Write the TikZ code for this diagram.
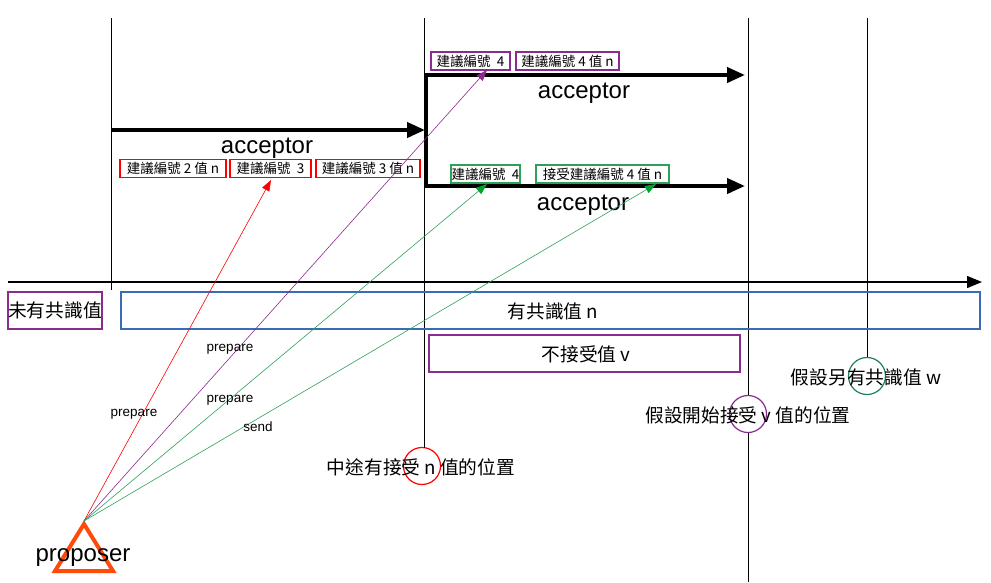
\documentclass[tikz,border=0pt]{standalone}
\usepackage{fontspec}
\setmainfont{Liberation Sans}
\newfontfamily\cjk{Noto Sans CJK TC}
\usetikzlibrary{arrows.meta}
\definecolor{cred}{HTML}{FF0000}
\definecolor{cpur}{HTML}{8B2A8F}
\definecolor{cgrn}{HTML}{2EA05A}
\definecolor{cgrnA}{HTML}{00A030}
\definecolor{cblue}{HTML}{3A6BB5}
\definecolor{cteal}{HTML}{1E7F5C}
\definecolor{corange}{HTML}{FF4A0A}
\tikzset{
  vline/.style={draw=black, line width=0.9pt},
  thickarr/.style={draw=black, line width=4pt, -{Triangle[length=18pt,width=15pt]}},
  smallbox/.style={draw, line width=1.3pt, inner sep=0pt, minimum height=18pt, font=\cjk\fontsize{13.5}{15}\selectfont},
  bigbox/.style={draw, line width=1.2pt, inner sep=0pt, minimum height=37pt},
  cjklbl/.style={font=\cjk\fontsize{18.7}{20}\selectfont, inner sep=0pt},
  acc/.style={font=\fontsize{24}{26}\selectfont, inner sep=0pt},
  small/.style={font=\fontsize{13.5}{15}\selectfont, inner sep=0pt},
  msg/.style={line width=0.6pt},
  ring/.style={draw, line width=1.2pt, circle, minimum size=37pt, inner sep=0pt},
}
\begin{document}
\begin{tikzpicture}[x=1pt,y=-1pt]
\useasboundingbox (0,0) rectangle (991,582);
% vertical lines
\coordinate (v1t) at (111,18); \coordinate (v1b) at (111,290);
\coordinate (v2t) at (424,18); \coordinate (v2b) at (424,448);
\coordinate (v3t) at (748,18); \coordinate (v3b) at (748,582);
\coordinate (v4t) at (867,18);
% circles
\node[ring, draw=cred] (c1) at (422,466) {};
\node[ring, draw=cpur] (c2) at (748,414) {};
\node[ring, draw=cteal] (c3) at (867,376) {};
\draw[vline] (v1t) -- (v1b);
\draw[vline] (v2t) -- (v2b);
\draw[vline] (v3t) -- (c2.north);
\draw[vline] (c2.south) -- (v3b);
\draw[vline] (v4t) -- (c3.north);
% axis
\coordinate (ax0) at (8,282); \coordinate (ax1) at (982,282);
\draw[line width=1.3pt, -{Triangle[length=15pt,width=12pt]}] (ax0) -- (ax1);
% big boxes
\node[bigbox, draw=cpur, minimum width=94pt, cjklbl] (b0) at (55,310.5) {未有共識值};
\node[bigbox, draw=cblue, minimum width=859pt] (b1) at (550.5,310.5) {};
\node[cjklbl] (t1) at (553,311) {有共識值 n};
\node[bigbox, draw=cpur, minimum width=311pt] (b2) at (584.5,353.5) {};
\node[cjklbl] (t2) at (586,354) {不接受值 v};
% thick acceptor arrows
\coordinate (a1s) at (111,130); \coordinate (a1e) at (425,130);
\draw[thickarr] (a1s) -- (a1e);
\node[acc] (acc1) at (267,148) {acceptor};
\coordinate (a2b) at (426,186); \coordinate (a2t) at (426,75);
\coordinate (a2e) at (745,75); \coordinate (a3e) at (745,186);
\draw[line width=4pt] ([yshift=2pt]a2b) -- ([yshift=-2pt]a2t);
\draw[thickarr] ([xshift=-2pt]a2t) -- (a2e);
\draw[thickarr] ([xshift=-2pt]a2b) -- (a3e);
\node[acc] (acc2) at (584,93) {acceptor};
\node[acc] (acc3) at (583,205) {acceptor};
% small boxes
\node[smallbox, draw=cred, minimum width=106pt] (r1) at (173,168.5) {建議編號 2 值 n};
\node[smallbox, draw=cred, minimum width=81pt] (r2) at (270.5,168.5) {建議編號 \ 3};
\node[smallbox, draw=cred, minimum width=104pt] (r3) at (368,168.5) {建議編號 3 值 n};
\node[smallbox, draw=cpur, minimum width=79pt] (p1) at (470.5,61) {建議編號 \ 4};
\node[smallbox, draw=cpur, minimum width=103pt] (p2) at (567.5,61) {建議編號 4 值 n};
\node[smallbox, draw=cgrn, minimum width=69pt] (g1) at (485.5,174) {建議編號 \ 4};
\node[smallbox, draw=cgrn, minimum width=133pt] (g2) at (602.5,174) {接受建議編號 4 值 n};
% proposer
\coordinate (apex) at (84,521);
\draw[corange, line width=4pt, line join=miter] (55,571) -- (113,571) -- (84,524) -- cycle;
\node[acc] (prop) at (83,558) {proposer};
% messages
\coordinate (tr) at (271,180);
\coordinate (tp) at (487,70);
\coordinate (tg1) at (487,184);
\coordinate (tg2) at (656,184);
\draw[msg, cred, -{Triangle[length=11pt,width=8pt]}] (apex) -- (tr);
\draw[msg, cpur, -{Triangle[length=11pt,width=8pt]}] (apex) -- (tp);
\draw[msg, cgrn, -{Triangle[length=11pt,width=8pt,color=cgrnA]}] (apex) -- (tg1);
\draw[msg, cgrn, -{Triangle[length=11pt,width=8pt,color=cgrnA]}] (apex) -- (tg2);
\node[small] (m1) at (134,414) {prepare};
\node[small] (m2) at (230,349) {prepare};
\node[small] (m3) at (230,400) {prepare};
\node[small] (m4) at (258,427) {send};
% circle labels
\node[cjklbl] (l1) at (421,467) {中途有接受 n 值的位置};
\node[cjklbl] (l2) at (748,415) {假設開始接受 v 值的位置};
\node[cjklbl] (l3) at (866,377) {假設另有共識值 w};
\end{tikzpicture}
\end{document}
